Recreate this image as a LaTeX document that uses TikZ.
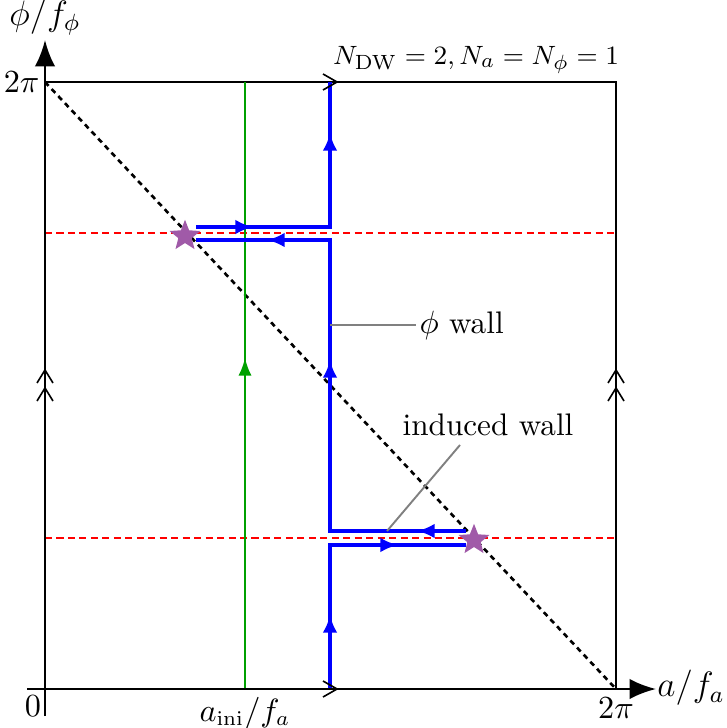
\documentclass[tikz,border=0pt]{standalone}
\usetikzlibrary{arrows.meta,shapes.geometric}
\definecolor{wallblue}{RGB}{0,0,255}
\definecolor{inigreen}{RGB}{0,160,0}
\definecolor{starpurple}{RGB}{160,90,168}
\begin{document}
\begin{tikzpicture}[x=0.34pt,y=-0.34pt,
  thinbox/.style={line width=0.55pt},
  axisline/.style={line width=1pt,-{Latex[length=9pt,width=7pt]}},
  wallpath/.style={wallblue,line width=1.45pt},
  wallarrow/.style={wallblue,line width=1.45pt,-{Latex[length=6pt,width=5pt]}},
  greenarrow/.style={inigreen,line width=0.75pt,-{Latex[length=6pt,width=4.5pt]}},
  chevron/.style={line width=0.55pt},
  reddash/.style={red,line width=0.9pt,dash pattern=on 2.4pt off 1.5pt},
  diagdash/.style={black,line width=0.9pt,dash pattern=on 1.8pt off 1.5pt},
  pointer/.style={gray,line width=0.65pt},
  starmark/.style={star,star points=5,star point ratio=2.3,fill=starpurple,draw=none,inner sep=0pt,minimum size=11pt},
  lab/.style={font=\fontsize{10.6}{13}\selectfont},
  smalllab/.style={font=\fontsize{9.4}{11}\selectfont},
  biglab/.style={font=\fontsize{12}{14}\selectfont}
]
\useasboundingbox (0,0) rectangle (727,728);
% key coordinates
\coordinate (O) at (45,689);
\coordinate (TL) at (45,82);
\coordinate (TR) at (616,82);
\coordinate (BR) at (616,689);
% box
\draw[thinbox] (TL) -- (TR) -- (BR);
% red dashed lines
\draw[reddash] (45,233) -- (616,233);
\draw[reddash] (45,538) -- (616,538);
% diagonal
\draw[diagdash] (TL) -- (BR);
% green line
\draw[inigreen,line width=0.75pt] (245,689) -- (245,82);
\draw[greenarrow] (245,385) -- (245,358);
% blue walls
\draw[wallpath] (330,689) -- (330,545) -- (466,545);
\draw[wallpath] (466,531) -- (330,531) -- (330,240) -- (196,240);
\draw[wallpath] (196,227) -- (330,227) -- (330,82);
\draw[wallarrow] (330,642) -- (330,615);
\draw[wallarrow] (330,387) -- (330,360);
\draw[wallarrow] (330,160) -- (330,133);
\draw[wallarrow] (371,545) -- (398,545);
\draw[wallarrow] (444,531) -- (417,531);
\draw[wallarrow] (226,227) -- (253,227);
\draw[wallarrow] (294,240) -- (267,240);
% stars
\node[starmark] (s1) at (185,236) {};
\node[starmark] (s2) at (474,540) {};
% axes
\draw[axisline] (45,716) -- (45,40);
\draw[axisline] (27,689) -- (656,689);
% chevrons on identified edges
\draw[chevron] (323,74) -- (337,82) -- (323,90);
\draw[chevron] (323,681) -- (337,689) -- (323,697);
\draw[chevron] (37,383) -- (45,370) -- (53,383);
\draw[chevron] (37,401) -- (45,388) -- (53,401);
\draw[chevron] (608,383) -- (616,370) -- (624,383);
\draw[chevron] (608,401) -- (616,388) -- (624,401);
% labels
\node[biglab] (ylab) at (45,17) {$\phi/f_\phi$};
\node[biglab] (xlab) at (691,688) {$a/f_a$};
\node[lab,anchor=east,inner sep=1pt] (ytop) at (43,82) {$2\pi$};
\node[lab] (zero) at (33,706) {$0$};
\node[lab] (aini) at (245,713) {$a_{\mathrm{ini}}/f_a$};
\node[lab] (xtop) at (616,708) {$2\pi$};
\node[smalllab] (ndw) at (476,60) {$N_{\mathrm{DW}}=2, N_a=N_\phi=1$};
\node[lab,anchor=west,inner sep=1pt] (phiwall) at (416,325) {$\phi$ wall};
\node[lab] (indwall) at (488,425) {induced wall};
\coordinate (pw) at (330,325);
\coordinate (iw) at (387,531);
\draw[pointer] (pw) -- (phiwall.west);
\draw[pointer] (iw) -- (460,445);
\end{tikzpicture}
\end{document}
